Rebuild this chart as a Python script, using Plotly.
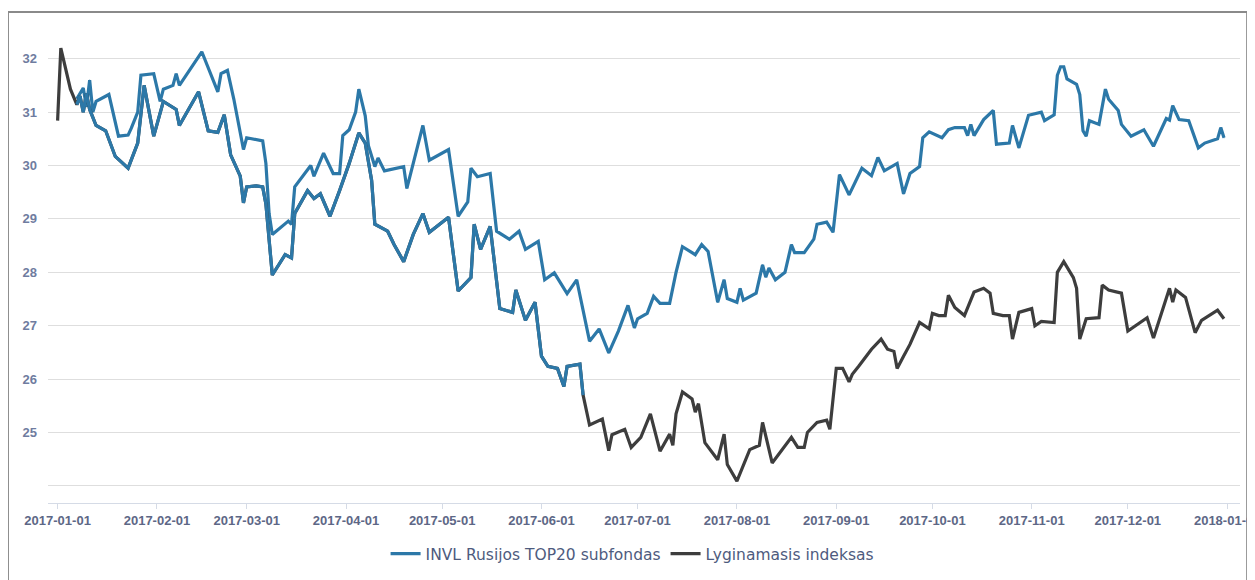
import pandas as pd
import plotly.graph_objects as go

# ---------------- data ----------------
fund_name = "INVL Rusijos TOP20 subfondas"
bench_name = "Lyginamasis indeksas"

fund_dates = [
    "2017-01-07", "2017-01-09", "2017-01-10", "2017-01-11", "2017-01-12", "2017-01-13",
    "2017-01-17", "2017-01-20", "2017-01-23", "2017-01-24", "2017-01-26", "2017-01-27",
    "2017-01-31", "2017-02-02", "2017-02-03", "2017-02-06", "2017-02-07", "2017-02-08",
    "2017-02-15", "2017-02-20", "2017-02-21", "2017-02-23", "2017-02-25", "2017-02-28",
    "2017-03-01", "2017-03-04", "2017-03-06", "2017-03-07", "2017-03-08", "2017-03-09",
    "2017-03-14", "2017-03-15", "2017-03-16", "2017-03-21", "2017-03-22", "2017-03-25",
    "2017-03-28", "2017-03-30", "2017-03-31", "2017-04-02", "2017-04-04", "2017-04-05",
    "2017-04-07", "2017-04-08", "2017-04-10", "2017-04-11", "2017-04-13", "2017-04-19",
    "2017-04-20", "2017-04-25", "2017-04-27", "2017-05-03", "2017-05-06", "2017-05-09",
    "2017-05-10", "2017-05-12", "2017-05-16", "2017-05-18", "2017-05-22", "2017-05-25",
    "2017-05-27", "2017-05-31", "2017-06-02", "2017-06-05", "2017-06-09", "2017-06-12",
    "2017-06-16", "2017-06-19", "2017-06-22", "2017-06-25", "2017-06-28", "2017-06-30",
    "2017-07-01", "2017-07-04", "2017-07-06", "2017-07-08", "2017-07-11", "2017-07-13",
    "2017-07-15", "2017-07-19", "2017-07-21", "2017-07-23", "2017-07-26", "2017-07-28",
    "2017-07-29", "2017-08-01", "2017-08-02", "2017-08-03", "2017-08-07", "2017-08-09",
    "2017-08-10", "2017-08-11", "2017-08-13", "2017-08-16", "2017-08-18", "2017-08-19",
    "2017-08-22", "2017-08-25", "2017-08-26", "2017-08-29", "2017-08-31", "2017-09-02",
    "2017-09-05", "2017-09-09", "2017-09-12", "2017-09-14", "2017-09-16", "2017-09-20",
    "2017-09-22", "2017-09-24", "2017-09-27", "2017-09-28", "2017-09-30", "2017-10-04",
    "2017-10-06", "2017-10-08", "2017-10-11", "2017-10-12", "2017-10-13", "2017-10-14",
    "2017-10-17", "2017-10-20", "2017-10-21", "2017-10-25", "2017-10-26", "2017-10-28",
    "2017-10-31", "2017-11-04", "2017-11-05", "2017-11-08", "2017-11-09", "2017-11-10",
    "2017-11-11", "2017-11-12", "2017-11-15", "2017-11-16", "2017-11-17", "2017-11-18",
    "2017-11-19", "2017-11-22", "2017-11-24", "2017-11-25", "2017-11-28", "2017-11-29",
    "2017-12-02", "2017-12-06", "2017-12-09", "2017-12-13", "2017-12-14", "2017-12-15",
    "2017-12-17", "2017-12-20", "2017-12-23", "2017-12-25", "2017-12-29", "2017-12-30",
    "2017-12-31",
]
fund_values = [
    31.25, 31.45, 31.10, 31.60, 31.00, 31.20,
    31.33, 30.55, 30.57, 30.70, 31.00, 31.69,
    31.72, 31.20, 31.43, 31.50, 31.72, 31.50,
    32.13, 31.38, 31.72, 31.78, 31.24, 30.30,
    30.52, 30.48, 30.46, 30.04, 29.10, 28.71,
    28.96, 28.90, 29.60, 30.00, 29.80, 30.23,
    29.85, 29.85, 30.56, 30.67, 31.00, 31.43,
    30.93, 30.37, 29.98, 30.14, 29.90, 29.98,
    29.57, 30.75, 30.10, 30.30, 29.05, 29.32,
    29.95, 29.79, 29.85, 28.77, 28.62, 28.77,
    28.43, 28.58, 27.86, 27.99, 27.60, 27.86,
    26.71, 26.94, 26.49, 26.90, 27.38, 26.96,
    27.13, 27.23, 27.55, 27.42, 27.42, 28.00,
    28.48, 28.33, 28.52, 28.39, 27.44, 27.86,
    27.51, 27.44, 27.70, 27.48, 27.61, 28.14,
    27.91, 28.08, 27.86, 28.00, 28.52, 28.37,
    28.37, 28.62, 28.90, 28.94, 28.75, 29.83,
    29.45, 29.95, 29.81, 30.15, 29.90, 30.04,
    29.47, 29.85, 29.98, 30.52, 30.63, 30.52,
    30.67, 30.71, 30.71, 30.56, 30.77, 30.56,
    30.86, 31.03, 30.40, 30.42, 30.75, 30.33,
    30.94, 31.00, 30.84, 30.95, 31.69, 31.85,
    31.85, 31.62, 31.52, 31.33, 30.65, 30.55,
    30.84, 30.77, 31.43, 31.24, 31.03, 30.77,
    30.55, 30.67, 30.36, 30.88, 30.85, 31.12,
    30.86, 30.84, 30.33, 30.42, 30.50, 30.71,
    30.52,
]

bench_dates = [
    "2017-01-01", "2017-01-02", "2017-01-05", "2017-01-07", "2017-01-08", "2017-01-09",
    "2017-01-10", "2017-01-11", "2017-01-12", "2017-01-13", "2017-01-16", "2017-01-19",
    "2017-01-23", "2017-01-26", "2017-01-28", "2017-01-31", "2017-02-03", "2017-02-07",
    "2017-02-08", "2017-02-14", "2017-02-17", "2017-02-20", "2017-02-22", "2017-02-24",
    "2017-02-27", "2017-02-28", "2017-03-01", "2017-03-04", "2017-03-06", "2017-03-07",
    "2017-03-09", "2017-03-13", "2017-03-15", "2017-03-16", "2017-03-20", "2017-03-22",
    "2017-03-24", "2017-03-27", "2017-03-30", "2017-04-02", "2017-04-05", "2017-04-07",
    "2017-04-09", "2017-04-10", "2017-04-14", "2017-04-16", "2017-04-19", "2017-04-22",
    "2017-04-25", "2017-04-27", "2017-05-03", "2017-05-06", "2017-05-10", "2017-05-11",
    "2017-05-13", "2017-05-16", "2017-05-19", "2017-05-23", "2017-05-24", "2017-05-27",
    "2017-05-30", "2017-06-01", "2017-06-03", "2017-06-06", "2017-06-08", "2017-06-09",
    "2017-06-13", "2017-06-14", "2017-06-16", "2017-06-20", "2017-06-22", "2017-06-23",
    "2017-06-27", "2017-06-29", "2017-07-02", "2017-07-05", "2017-07-08", "2017-07-11",
    "2017-07-12", "2017-07-13", "2017-07-15", "2017-07-18", "2017-07-19", "2017-07-20",
    "2017-07-22", "2017-07-26", "2017-07-28", "2017-07-29", "2017-08-01", "2017-08-05",
    "2017-08-08", "2017-08-09", "2017-08-12", "2017-08-16", "2017-08-18", "2017-08-20",
    "2017-08-22", "2017-08-23", "2017-08-26", "2017-08-29", "2017-08-30", "2017-09-01",
    "2017-09-03", "2017-09-05", "2017-09-06", "2017-09-08", "2017-09-12", "2017-09-15",
    "2017-09-17", "2017-09-19", "2017-09-20", "2017-09-22", "2017-09-24", "2017-09-27",
    "2017-09-30", "2017-10-01", "2017-10-03", "2017-10-05", "2017-10-06", "2017-10-08",
    "2017-10-11", "2017-10-14", "2017-10-17", "2017-10-19", "2017-10-20", "2017-10-23",
    "2017-10-25", "2017-10-26", "2017-10-28", "2017-11-01", "2017-11-02", "2017-11-04",
    "2017-11-08", "2017-11-09", "2017-11-11", "2017-11-14", "2017-11-15", "2017-11-16",
    "2017-11-18", "2017-11-22", "2017-11-23", "2017-11-25", "2017-11-29", "2017-12-01",
    "2017-12-07", "2017-12-09", "2017-12-14", "2017-12-15", "2017-12-16", "2017-12-19",
    "2017-12-22", "2017-12-24", "2017-12-29", "2017-12-31",
]
bench_values = [
    30.84, 32.20, 31.43, 31.14, 31.30, 31.00,
    31.35, 31.05, 30.90, 30.75, 30.65, 30.17,
    29.95, 30.42, 31.50, 30.55, 31.20, 31.05,
    30.75, 31.38, 30.65, 30.62, 30.95, 30.20,
    29.80, 29.30, 29.60, 29.62, 29.60, 29.28,
    27.95, 28.33, 28.27, 29.10, 29.53, 29.38,
    29.47, 29.05, 29.53, 30.04, 30.61, 30.42,
    29.72, 28.90, 28.77, 28.52, 28.20, 28.71,
    29.10, 28.75, 29.03, 27.65, 27.90, 28.90,
    28.43, 28.86, 27.32, 27.25, 27.67, 27.10,
    27.44, 26.43, 26.24, 26.20, 25.86, 26.24,
    26.28, 25.70, 25.14, 25.25, 24.66, 24.96,
    25.06, 24.72, 24.91, 25.35, 24.65, 24.97,
    24.76, 25.35, 25.76, 25.63, 25.38, 25.54,
    24.81, 24.49, 24.97, 24.40, 24.09, 24.68,
    24.76, 25.19, 24.43, 24.76, 24.91, 24.72,
    24.72, 25.00, 25.19, 25.23, 25.06, 26.20,
    26.20, 25.95, 26.09, 26.24, 26.56, 26.75,
    26.56, 26.52, 26.20, 26.43, 26.65, 27.06,
    26.94, 27.23, 27.19, 27.19, 27.57, 27.34,
    27.19, 27.63, 27.70, 27.61, 27.23, 27.19,
    27.19, 26.75, 27.25, 27.32, 27.00, 27.08,
    27.06, 28.00, 28.20, 27.90, 27.70, 26.75,
    27.13, 27.15, 27.76, 27.67, 27.61, 26.90,
    27.15, 26.77, 27.70, 27.44, 27.67, 27.53,
    26.87, 27.10, 27.29, 27.13,
]

y_tick_values = [24, 25, 26, 27, 28, 29, 30, 31, 32]
y_tick_text = ["", "25", "26", "27", "28", "29", "30", "31", "32"]

# --------------------------- styling ---------------------------
BLUE = "#2c78a8"
GRAY = "#3d3d3d"
LABEL = "#5d6786"

fund_x = pd.to_datetime(fund_dates)
bench_x = pd.to_datetime(bench_dates)

# in the reference the benchmark is drawn in the fund's blue between these dates
seg_start, seg_end = pd.Timestamp("2017-01-07"), pd.Timestamp("2017-06-14")
mask = (bench_x >= seg_start) & (bench_x <= seg_end)
seg_x = bench_x[mask]
seg_y = [v for v, m in zip(bench_values, mask) if m]

fig = go.Figure()
fig.add_trace(go.Scatter(
    x=fund_x, y=fund_values, name=fund_name, mode="lines+markers",
    line=dict(color=BLUE, width=3.2), marker=dict(size=1, color=BLUE),
    legendrank=1,
))
fig.add_trace(go.Scatter(
    x=bench_x, y=bench_values, name=bench_name, mode="lines",
    line=dict(color=GRAY, width=3.2), legendrank=2,
))
fig.add_trace(go.Scatter(
    x=seg_x, y=seg_y, mode="lines", showlegend=False, hoverinfo="skip",
    line=dict(color=BLUE, width=3.2),
))

# the page body adds an 8 px offset, so the figure is 8 px smaller on each axis
fig.update_layout(
    width=1247, height=572,
    margin=dict(l=40, r=15, t=8, b=77, autoexpand=False),
    paper_bgcolor="white", plot_bgcolor="white",
    font=dict(family="Liberation Sans, Arial, sans-serif", color=LABEL),
    showlegend=True,
    legend=dict(
        orientation="h", x=0.49, xanchor="center", y=-0.105, yanchor="middle",
        font=dict(family="DejaVu Sans, Verdana, sans-serif", size=15.5, color="#4e5b7e"),
        traceorder="normal", itemwidth=30,
    ),
    shapes=[dict(
        type="rect", xref="paper", yref="paper",
        x0=-0.0336, x1=1.006, y0=-0.25, y1=1.008,
        line=dict(color="#8a8a8a", width=2), fillcolor="rgba(0,0,0,0)", layer="below",
    )],
)

fig.update_xaxes(
    type="date", automargin=False,
    range=["2016-12-29", "2018-01-05"],
    tickformat="%Y-%m-%d", dtick="M1", tick0="2017-01-01",
    ticks="outside", ticklen=5, tickcolor="#d5dbe6",
    ticklabeloverflow="allow",
    showline=True, linecolor="#d5dbe6", linewidth=1,
    showgrid=False, zeroline=False,
    tickfont=dict(family="Liberation Sans, Arial, sans-serif", size=13,
                  color=LABEL, weight="bold"),
)
fig.update_yaxes(
    automargin=False,
    range=[23.68, 32.8],
    tickvals=y_tick_values, ticktext=y_tick_text,
    showgrid=True, gridcolor="#dedede", gridwidth=1,
    zeroline=False, showline=False, ticks="",
    ticklabelstandoff=10,
    tickfont=dict(family="Liberation Sans, Arial, sans-serif", size=13,
                  color="#6f7ca0", weight="bold"),
)

fig.write_html("out.html")
